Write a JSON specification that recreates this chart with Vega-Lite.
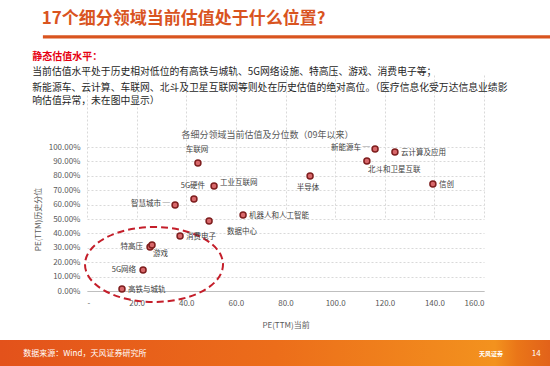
{
  "$schema": "https://vega.github.io/schema/vega-lite/v6.json",
  "width": 550,
  "height": 366,
  "autosize": {"type": "none"},
  "padding": 0,
  "background": "#ffffff",
  "config": {
    "view": {"stroke": null},
    "font": "Noto Sans CJK SC"
  },
  "datasets": {
    "sectors": [
      {"name": "车联网", "pe": 44.7, "pct": 0.889},
      {"name": "工业互联网", "pe": 51.2, "pct": 0.729},
      {"name": "5G硬件", "pe": 43.1, "pct": 0.639},
      {"name": "智慧城市", "pe": 35.5, "pct": 0.597},
      {"name": "机器人和人工智能", "pe": 62.9, "pct": 0.528},
      {"name": "数据中心", "pe": 49.2, "pct": 0.486},
      {"name": "消费电子", "pe": 37.5, "pct": 0.382},
      {"name": "特高压", "pe": 25.4, "pct": 0.306},
      {"name": "游戏", "pe": 26.2, "pct": 0.319},
      {"name": "5G网络", "pe": 22.6, "pct": 0.146},
      {"name": "高铁与城轨", "pe": 14.1, "pct": 0.014},
      {"name": "新能源车", "pe": 116.1, "pct": 0.986},
      {"name": "云计算及应用", "pe": 124.1, "pct": 0.965},
      {"name": "北斗和卫星互联", "pe": 112.8, "pct": 0.903},
      {"name": "半导体", "pe": 89.9, "pct": 0.799},
      {"name": "信创", "pe": 139.4, "pct": 0.743}
    ],
    "slide": [
      {"id": "heading", "text": "17个细分领域当前估值处于什么位置?"},
      {"id": "lead", "text": "静态估值水平："},
      {"id": "body1", "text": "当前估值水平处于历史相对低位的有高铁与城轨、5G网络设施、特高压、游戏、消费电子等；"},
      {"id": "body2", "text": "新能源车、云计算、车联网、北斗及卫星互联网等则处在历史估值的绝对高位。（医疗信息化受万达信息业绩影"},
      {"id": "body3", "text": "响估值异常，未在图中显示）"},
      {"id": "charttitle", "text": "各细分领域当前估值及分位数（09年以来）"},
      {"id": "source", "text": "数据来源：Wind，天风证券研究所"},
      {"id": "brand", "text": "天风证券"},
      {"id": "page", "text": "14"}
    ]
  },
  "layer": [
    {
      "data": {"name": "slide"},
      "layer": [
        {
          "data": {"values": [{"id": "footer"}]},
          "mark": {"type": "rect", "fill": {"gradient": "linear", "x1": 0, "x2": 1, "y1": 0, "y2": 0, "stops": [
            {"offset": 0, "color": "#E3521B"},
            {"offset": 0.5, "color": "#EC6D1A"},
            {"offset": 0.9, "color": "#F3921E"},
            {"offset": 0.94, "color": "#EA7618"},
            {"offset": 1, "color": "#E2621A"}
          ]}},
          "encoding": {
            "x": {"datum": 0, "type": "quantitative", "scale": {"domain": [0, 100]}, "axis": null},
            "x2": {"datum": 100},
            "y": {"datum": 92.9, "type": "quantitative", "scale": {"domain": [0, 100], "reverse": true}, "axis": null},
            "y2": {"datum": 100}
          }
        },
        {
          "data": {"values": [{"id": "underline"}]},
          "mark": {"type": "rect", "fill": "#D9541F"},
          "encoding": {
            "x": {"datum": 7.8, "type": "quantitative", "scale": {"domain": [0, 100]}, "axis": null},
            "x2": {"datum": 100},
            "y": {"datum": 9.6, "type": "quantitative", "scale": {"domain": [0, 100], "reverse": true}, "axis": null},
            "y2": {"datum": 10.55}
          }
        },
        {
          "transform": [{"filter": "datum.id === 'heading'"}],
          "mark": {"type": "text", "align": "left", "baseline": "middle", "fontSize": 17, "fontWeight": "bold", "color": "#D9541F"},
          "encoding": {
            "x": {"datum": 7.6, "type": "quantitative", "scale": {"domain": [0, 100]}, "axis": null},
            "y": {"datum": 5.3, "type": "quantitative", "scale": {"domain": [0, 100], "reverse": true}, "axis": null},
            "text": {"field": "text"}
          }
        },
        {
          "transform": [{"filter": "datum.id === 'lead'"}],
          "mark": {"type": "text", "align": "left", "baseline": "middle", "fontSize": 10, "fontWeight": "bold", "color": "#E60012"},
          "encoding": {
            "x": {"datum": 5.87, "type": "quantitative", "scale": {"domain": [0, 100]}, "axis": null},
            "y": {"datum": 15.5, "type": "quantitative", "scale": {"domain": [0, 100], "reverse": true}, "axis": null},
            "text": {"field": "text"}
          }
        },
        {
          "transform": [{"filter": "datum.id === 'body1'"}],
          "mark": {"type": "text", "align": "left", "baseline": "middle", "fontSize": 9.8, "color": "#262626"},
          "encoding": {
            "x": {"datum": 5.87, "type": "quantitative", "scale": {"domain": [0, 100]}, "axis": null},
            "y": {"datum": 19.75, "type": "quantitative", "scale": {"domain": [0, 100], "reverse": true}, "axis": null},
            "text": {"field": "text"}
          }
        },
        {
          "transform": [{"filter": "datum.id === 'body2'"}],
          "mark": {"type": "text", "align": "left", "baseline": "middle", "fontSize": 9.8, "color": "#262626"},
          "encoding": {
            "x": {"datum": 5.87, "type": "quantitative", "scale": {"domain": [0, 100]}, "axis": null},
            "y": {"datum": 24.0, "type": "quantitative", "scale": {"domain": [0, 100], "reverse": true}, "axis": null},
            "text": {"field": "text"}
          }
        },
        {
          "transform": [{"filter": "datum.id === 'body3'"}],
          "mark": {"type": "text", "align": "left", "baseline": "middle", "fontSize": 9.8, "color": "#262626"},
          "encoding": {
            "x": {"datum": 5.87, "type": "quantitative", "scale": {"domain": [0, 100]}, "axis": null},
            "y": {"datum": 27.5, "type": "quantitative", "scale": {"domain": [0, 100], "reverse": true}, "axis": null},
            "text": {"field": "text"}
          }
        },
        {
          "transform": [{"filter": "datum.id === 'charttitle'"}],
          "mark": {"type": "text", "align": "center", "baseline": "middle", "fontSize": 9, "color": "#595959"},
          "encoding": {
            "x": {"datum": 48.64, "type": "quantitative", "scale": {"domain": [0, 100]}, "axis": null},
            "y": {"datum": 36.89, "type": "quantitative", "scale": {"domain": [0, 100], "reverse": true}, "axis": null},
            "text": {"field": "text"}
          }
        },
        {
          "transform": [{"filter": "datum.id === 'source'"}],
          "mark": {"type": "text", "align": "left", "baseline": "middle", "fontSize": 8, "color": "#ffffff"},
          "encoding": {
            "x": {"datum": 4.24, "type": "quantitative", "scale": {"domain": [0, 100]}, "axis": null},
            "y": {"datum": 96.8, "type": "quantitative", "scale": {"domain": [0, 100], "reverse": true}, "axis": null},
            "text": {"field": "text"}
          }
        },
        {
          "transform": [{"filter": "datum.id === 'brand'"}],
          "mark": {"type": "text", "align": "left", "baseline": "middle", "fontSize": 6, "fontWeight": "bold", "color": "#ffffff"},
          "encoding": {
            "x": {"datum": 87.1, "type": "quantitative", "scale": {"domain": [0, 100]}, "axis": null},
            "y": {"datum": 96.6, "type": "quantitative", "scale": {"domain": [0, 100], "reverse": true}, "axis": null},
            "text": {"field": "text"}
          }
        },
        {
          "transform": [{"filter": "datum.id === 'page'"}],
          "mark": {"type": "text", "align": "left", "baseline": "middle", "fontSize": 8, "color": "#ffffff"},
          "encoding": {
            "x": {"datum": 96.7, "type": "quantitative", "scale": {"domain": [0, 100]}, "axis": null},
            "y": {"datum": 96.7, "type": "quantitative", "scale": {"domain": [0, 100], "reverse": true}, "axis": null},
            "text": {"field": "text"}
          }
        }
      ]
    },
    {
      "data": {"name": "sectors"},
      "encoding": {
        "x": {
          "field": "pe", "type": "quantitative",
          "scale": {"domain": [0, 160], "range": [87, 484], "nice": false, "zero": false},
          "axis": {
            "orient": "bottom", "offset": -75,
            "values": [0, 20, 40, 60, 80, 100, 120, 140, 160],
            "labelExpr": "datum.value == 0 ? '-' : format(datum.value, '.1f')",
            "labelFontSize": 8, "labelColor": "#595959", "labelPadding": 8,
            "ticks": false,
            "domain": true, "domainColor": "#BFBFBF", "domainWidth": 1,
            "grid": true, "gridColor": "#D9D9D9", "gridDash": [2, 2],
            "title": "PE(TTM)当前", "titleFontSize": 8, "titleFontWeight": "normal", "titleColor": "#595959", "titlePadding": 14
          }
        },
        "y": {
          "field": "pct", "type": "quantitative",
          "scale": {"domain": [0, 1], "range": [291, 147], "nice": false, "zero": false},
          "axis": {
            "orient": "left", "offset": -87,
            "values": [0, 0.1, 0.2, 0.3, 0.4, 0.5, 0.6, 0.7, 0.8, 0.9, 1],
            "format": ".2%",
            "labelFontSize": 8, "labelColor": "#595959", "labelPadding": 7,
            "ticks": false, "domain": false,
            "grid": true, "gridColor": "#D9D9D9", "gridDash": [2, 2],
            "title": "PE(TTM)历史分位", "titleFontSize": 8, "titleFontWeight": "normal", "titleColor": "#595959", "titlePadding": 6
          }
        }
      },
      "layer": [
        {
          "data": {"values": [{"name": "低估值区域", "pe": 27.0, "pct": 0.184}]},
          "mark": {"type": "point", "shape": "M-1,0A1,0.543,0,1,0,1,0A1,0.543,0,1,0,-1,0Z", "size": 19044, "filled": false, "color": "#C41E2A", "stroke": "#C41E2A", "strokeWidth": 2, "strokeDash": [7, 4], "opacity": 1}
        },
        {
          "mark": {"type": "point", "filled": true, "size": 36, "fill": "#D8686B", "stroke": "#7E1E1E", "strokeWidth": 1.5, "opacity": 1}
        },
        {
          "transform": [{"filter": {"field": "name", "oneOf": ["机器人和人工智能", "高铁与城轨", "云计算及应用", "信创", "消费电子"]}}],
          "mark": {"type": "text", "align": "left", "baseline": "middle", "dx": 6, "dy": 1, "fontSize": 7.5, "color": "#404040"},
          "encoding": {"text": {"field": "name"}}
        },
        {
          "transform": [{"filter": {"field": "name", "oneOf": ["工业互联网"]}}],
          "mark": {"type": "text", "align": "left", "baseline": "middle", "dx": 6, "dy": -3, "fontSize": 7.5, "color": "#404040"},
          "encoding": {"text": {"field": "name"}}
        },
        {
          "transform": [{"filter": {"field": "name", "oneOf": ["特高压", "5G网络"]}}],
          "mark": {"type": "text", "align": "right", "baseline": "middle", "dx": -7, "dy": 0, "fontSize": 7.5, "color": "#404040"},
          "encoding": {"text": {"field": "name"}}
        },
        {
          "transform": [
            {"filter": {"field": "name", "oneOf": ["智慧城市", "新能源车"]}},
            {"calculate": "datum.name + ' ─'", "as": "label"}
          ],
          "mark": {"type": "text", "align": "right", "baseline": "middle", "dx": -5, "dy": -1, "fontSize": 7.5, "color": "#404040"},
          "encoding": {"text": {"field": "label"}}
        },
        {
          "transform": [{"filter": {"field": "name", "oneOf": ["车联网", "5G硬件"]}}],
          "mark": {"type": "text", "align": "center", "baseline": "middle", "dx": -1, "dy": -12.5, "fontSize": 7.5, "color": "#404040"},
          "encoding": {"text": {"field": "name"}}
        },
        {
          "transform": [{"filter": {"field": "name", "oneOf": ["半导体"]}}],
          "mark": {"type": "text", "align": "center", "baseline": "middle", "dx": -2, "dy": 12, "fontSize": 7.5, "color": "#404040"},
          "encoding": {"text": {"field": "name"}}
        },
        {
          "transform": [{"filter": {"field": "name", "oneOf": ["北斗和卫星互联", "游戏"]}}],
          "mark": {"type": "text", "align": "left", "baseline": "middle", "dx": 1, "dy": 9, "fontSize": 7.5, "color": "#404040"},
          "encoding": {"text": {"field": "name"}}
        },
        {
          "transform": [{"filter": {"field": "name", "oneOf": ["数据中心"]}}],
          "mark": {"type": "text", "align": "left", "baseline": "middle", "dx": 18, "dy": 11, "fontSize": 7.5, "color": "#404040"},
          "encoding": {"text": {"field": "name"}}
        }
      ]
    }
  ],
  "resolve": {"scale": {"x": "independent", "y": "independent"}}
}
